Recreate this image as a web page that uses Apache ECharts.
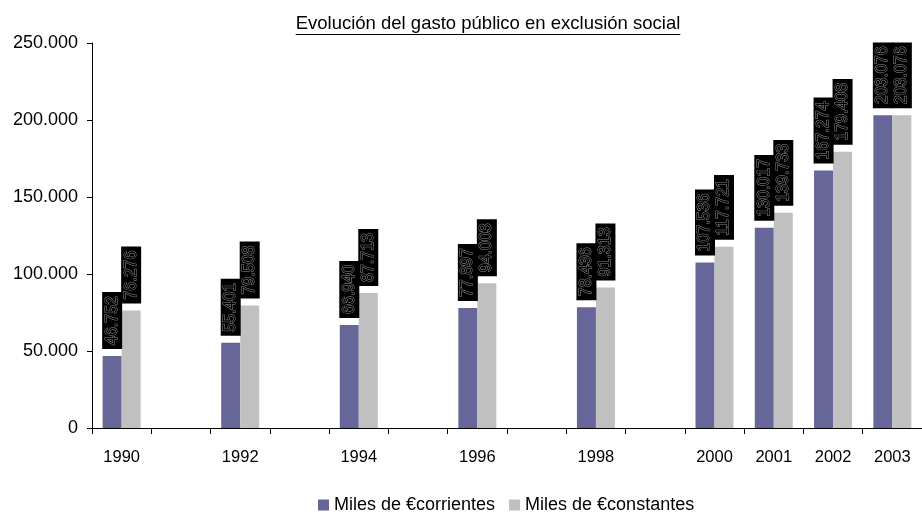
<!DOCTYPE html>
<html>
<head>
<meta charset="utf-8">
<script src="https://cdn.jsdelivr.net/npm/echarts@6/dist/echarts.min.js"></script>
<style>html,body{margin:0;padding:0;background:#fff}#c{width:922px;height:518px}</style>
</head>
<body>
<div id="c"></div>
<script>
const titleText = 'Evolución del gasto público en exclusión social';
const years = ['1990','1991','1992','1993','1994','1995','1996','1997','1998','1999','2000','2001','2002','2003'];
const corrientes = [46752, null, 55401, null, 66940, null, 77897, null, 78436, null, 107536, 130017, 167274, 203076];
const constantes = [76276, null, 79508, null, 87713, null, 94003, null, 91313, null, 117721, 139733, 179408, 203076];
const seriesNames = ['Miles de €corrientes', 'Miles de €constantes'];
const yMin = 0, yMax = 250000, yStep = 50000;

const FONT = "'Liberation Sans', Arial, sans-serif";
const fmt = n => String(n).replace(/\B(?=(\d{3})+(?!\d))/g, '.');

const TITLE_FS = 18.5;
const cv = document.createElement('canvas').getContext('2d');
cv.font = TITLE_FS + 'px ' + FONT;
const tw = cv.measureText(titleText).width;
const tCenter = 488;

const labelStyle = {
  show: true,
  position: 'top',
  rotate: 90,
  align: 'left',
  verticalAlign: 'middle',
  distance: 7,
  formatter: p => fmt(p.value),
  fontFamily: FONT,
  fontSize: 16,
  lineHeight: 18,
  color: '#000',
  textBorderColor: '#8a8a8a',
  textBorderWidth: 1,
  backgroundColor: '#000',
  padding: [1, 4, 1, 4]
};

const chart = echarts.init(document.getElementById('c'), null, {renderer: 'canvas'});
chart.setOption({
  animation: false,
  backgroundColor: '#fff',
  title: {
    text: titleText,
    left: tCenter - tw / 2,
    top: 14,
    padding: 0,
    textStyle: {fontFamily: FONT, fontSize: TITLE_FS, fontWeight: 'normal', color: '#000'}
  },
  graphic: [{
    type: 'line',
    shape: {x1: tCenter - tw / 2, y1: 34.5, x2: tCenter + tw / 2, y2: 34.5},
    style: {stroke: '#000', lineWidth: 1}
  }],
  legend: {
    top: 496,
    left: 318,
    itemWidth: 11,
    itemHeight: 11,
    itemGap: 14,
    icon: 'rect',
    padding: 0,
    textStyle: {fontFamily: FONT, fontSize: 18, color: '#000'},
    data: seriesNames
  },
  grid: {left: 92, top: 43, width: 840, height: 385, containLabel: false},
  xAxis: {
    type: 'category',
    data: years,
    axisLine: {lineStyle: {color: '#000', width: 1}},
    axisTick: {show: true, length: 6, lineStyle: {color: '#000'}},
    axisLabel: {
      interval: 0,
      margin: 21,
      fontFamily: FONT, fontSize: 16.5, color: '#000',
      formatter: (v, i) => (corrientes[i] == null ? '' : v)
    }
  },
  yAxis: {
    type: 'value',
    min: yMin, max: yMax, interval: yStep,
    splitLine: {show: false},
    axisLine: {show: true, lineStyle: {color: '#000', width: 1}},
    axisTick: {show: true, length: 5, lineStyle: {color: '#000'}},
    axisLabel: {margin: 14, fontFamily: FONT, fontSize: 18, color: '#000', formatter: v => fmt(v)}
  },
  series: [
    {name: seriesNames[0], type: 'bar', data: corrientes, barWidth: 19, barGap: '0%',
     itemStyle: {color: '#666699'}, label: labelStyle},
    {name: seriesNames[1], type: 'bar', data: constantes, barWidth: 19, barGap: '0%',
     itemStyle: {color: '#C0C0C0'}, label: labelStyle}
  ]
});
</script>
</body>
</html>
